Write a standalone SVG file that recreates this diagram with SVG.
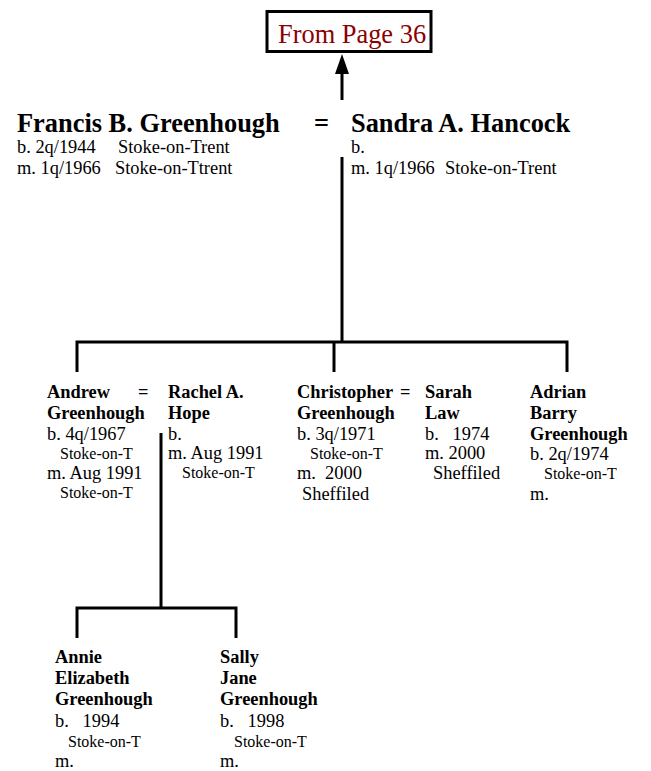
<svg xmlns="http://www.w3.org/2000/svg" width="651" height="771" viewBox="0 0 651 771">
<defs>
<style>
text{font-family:"Liberation Serif","Times New Roman",serif;fill:#000}
.big{font-size:26.4px;font-weight:bold}
.src{font-size:26.4px;fill:#8b0000}
.d{font-size:18.4px}
.nm{font-size:18.4px;font-weight:bold}
.s{font-size:16px}
.ln{stroke:#000;stroke-width:3;fill:none}
</style>
</defs>
<rect width="651" height="771" fill="#fff"/>
<g id="connectors">
<line class="ln" x1="342" y1="100" x2="342" y2="72"/>
<path d="M342,54 L349,74 L335,74 Z" fill="#000"/>
<line class="ln" x1="342" y1="157" x2="342" y2="342"/>
<path class="ln" d="M77,372 V342 H567 V372"/>
<line class="ln" x1="334" y1="342" x2="334" y2="372"/>
<line class="ln" x1="161" y1="433" x2="161" y2="608"/>
<path class="ln" d="M77,638 V608 H236 V638"/>
</g>
<g id="from-page">
<rect x="267" y="11.5" width="164" height="40" fill="#fff" stroke="#000" stroke-width="3"/>
<text class="src" x="278" y="43">From Page 36</text>
</g>
<g id="francis">
<text class="big" x="17" y="132">Francis B. Greenhough</text>
<text class="big" x="314" y="132">=</text>
<text class="d" x="17" y="153">b. 2q/1944</text>
<text class="d" x="118" y="153">Stoke-on-Trent</text>
<text class="d" x="17" y="174">m. 1q/1966</text>
<text class="d" x="115" y="174">Stoke-on-Ttrent</text>
</g>
<g id="sandra">
<text class="big" x="351" y="132">Sandra A. Hancock</text>
<text class="d" x="351" y="153">b.</text>
<text class="d" x="351" y="174">m. 1q/1966</text>
<text class="d" x="445" y="174">Stoke-on-Trent</text>
</g>
<g id="andrew">
<text class="nm" x="47" y="398">Andrew</text>
<text class="nm" x="138" y="398">=</text>
<text class="nm" x="47" y="419">Greenhough</text>
<text class="d" x="47" y="440">b. 4q/1967</text>
<text class="s" x="60" y="459">Stoke-on-T</text>
<text class="d" x="47" y="479">m. Aug 1991</text>
<text class="s" x="60" y="498">Stoke-on-T</text>
</g>
<g id="rachel">
<text class="nm" x="168" y="398">Rachel A.</text>
<text class="nm" x="168" y="419">Hope</text>
<text class="d" x="168" y="440">b.</text>
<text class="d" x="168" y="459">m. Aug 1991</text>
<text class="s" x="182" y="478">Stoke-on-T</text>
</g>
<g id="christopher">
<text class="nm" x="297" y="398">Christopher</text>
<text class="nm" x="400" y="398">=</text>
<text class="nm" x="297" y="419">Greenhough</text>
<text class="d" x="297" y="440">b. 3q/1971</text>
<text class="s" x="310" y="459">Stoke-on-T</text>
<text class="d" x="297" y="479" xml:space="preserve">m.  2000</text>
<text class="d" x="302" y="500">Sheffiled</text>
</g>
<g id="sarah">
<text class="nm" x="425" y="398">Sarah</text>
<text class="nm" x="425" y="419">Law</text>
<text class="d" x="425" y="440" xml:space="preserve">b.   1974</text>
<text class="d" x="425" y="459">m. 2000</text>
<text class="d" x="433" y="479">Sheffiled</text>
</g>
<g id="adrian">
<text class="nm" x="530" y="398">Adrian</text>
<text class="nm" x="530" y="419">Barry</text>
<text class="nm" x="530" y="440">Greenhough</text>
<text class="d" x="530" y="460">b. 2q/1974</text>
<text class="s" x="544" y="479">Stoke-on-T</text>
<text class="d" x="530" y="500">m.</text>
</g>
<g id="annie">
<text class="nm" x="55" y="663">Annie</text>
<text class="nm" x="55" y="684">Elizabeth</text>
<text class="nm" x="55" y="705">Greenhough</text>
<text class="d" x="55" y="727" xml:space="preserve">b.   1994</text>
<text class="s" x="68" y="747">Stoke-on-T</text>
<text class="d" x="55" y="767">m.</text>
</g>
<g id="sally">
<text class="nm" x="220" y="663">Sally</text>
<text class="nm" x="220" y="684">Jane</text>
<text class="nm" x="220" y="705">Greenhough</text>
<text class="d" x="220" y="727" xml:space="preserve">b.   1998</text>
<text class="s" x="234" y="747">Stoke-on-T</text>
<text class="d" x="220" y="767">m.</text>
</g>
</svg>
